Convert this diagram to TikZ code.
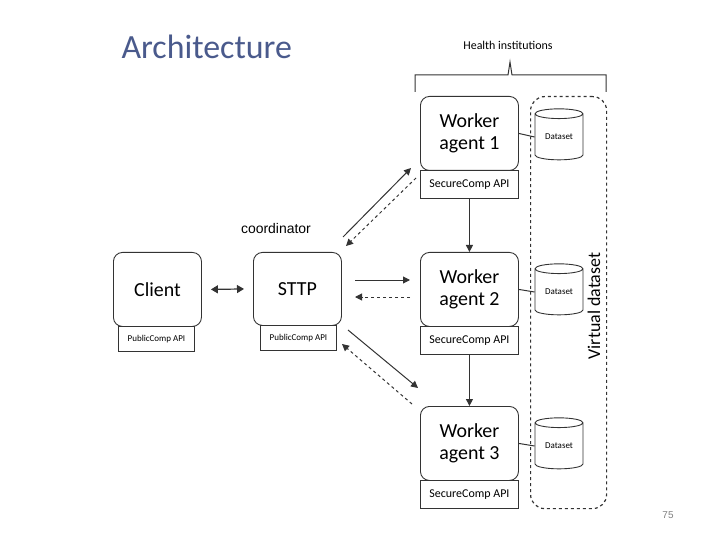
\documentclass[tikz,border=0pt]{standalone}
\usepackage{fontspec}
\setmainfont{Carlito}
\newfontfamily\arial{Liberation Sans}
\usetikzlibrary{arrows.meta,shapes.geometric}
\definecolor{titleblue}{HTML}{4A5A8C}
\definecolor{ln}{HTML}{333333}
\begin{document}
\begin{tikzpicture}[x=1bp,y=-1bp,
  agent/.style={draw=ln,line width=0.9pt,rounded corners=9bp,minimum width=98bp,minimum height=74bp,align=center,font=\fontsize{20}{22}\selectfont,anchor=north west,inner sep=0pt},
  api/.style={draw=ln,line width=0.9pt,minimum width=98bp,minimum height=28bp,font=\fontsize{12}{13}\selectfont,anchor=north west,inner sep=0pt},
  papi/.style={draw=ln,line width=0.9pt,minimum width=76bp,minimum height=25bp,font=\fontsize{9}{10}\selectfont,anchor=north west,inner sep=0pt},
  db/.style={draw=ln,line width=0.9pt,cylinder,shape border rotate=90,aspect=0.35,minimum width=48bp,minimum height=51bp,font=\fontsize{9}{10}\selectfont,inner sep=0pt},
  sol/.style={draw=ln,line width=1pt,-{Stealth[length=7bp,width=7bp,inset=0pt]}},
  das/.style={sol,dashed}]
\useasboundingbox (0,0) rectangle (720,540);
\node[font=\fontsize{34}{36}\selectfont,text=titleblue,anchor=west] (title) at (118,47) {Architecture};
\node[font=\fontsize{12}{13}\selectfont] (hi) at (508,45) {Health institutions};
\draw[ln,line width=1pt] (415,92) -- (415,75) -- (508,75) -- (510,62) -- (512,75) -- (606,75) -- (606,92);
\node[draw=ln,dashed,line width=1.2pt,rounded corners=14bp,minimum width=76bp,minimum height=412bp,anchor=north west] (vd) at (530,96) {};
\node[rotate=90,font=\fontsize{18}{20}\selectfont] (vdt) at (594,306) {Virtual dataset};
\node[agent] (w1) at (420,96) {Worker\\agent 1};
\node[api] (a1) at (420,170) {SecureComp API};
\node[agent] (w2) at (420,252) {Worker\\agent 2};
\node[api] (a2) at (420,326) {SecureComp API};
\node[agent] (w3) at (420,406) {Worker\\agent 3};
\node[api] (a3) at (420,480) {SecureComp API};
\node[db] (d1) at (559,137) {Dataset};
\node[db] (d2) at (559,292) {Dataset};
\node[db] (d3) at (559,446) {Dataset};
\draw[ln,line width=1pt] (w1.east) -- (d1.west);
\draw[ln,line width=1pt] (w2.east) -- (d2.west);
\draw[ln,line width=1pt] (w3.east) -- (d3.west);
\draw[sol] (a1.south) -- (w2.north);
\draw[sol] (a2.south) -- (w3.north);
\node[agent,minimum width=88bp] (cl) at (113,252) {Client};
\node[papi] (ca) at (118,326) {PublicComp API};
\node[agent,minimum width=88bp,minimum height=73bp] (st) at (253,252) {STTP};
\node[papi] (sa) at (260,325) {PublicComp API};
\draw[draw=ln,line width=1.2pt,{Stealth[length=7bp,width=8bp,inset=0pt]}-{Stealth[length=7bp,width=8bp,inset=0pt]}] ([xshift=9bp]cl.east) -- ([xshift=-9bp]st.west);
\node[font=\arial\fontsize{14}{16}\selectfont] (co) at (276,229) {coordinator};
\coordinate (s1a) at (343,237); \coordinate (s1b) at (411,168);
\coordinate (s1c) at (416,178); \coordinate (s1d) at (346,246);
\draw[sol] (s1a) -- (s1b);
\draw[das] (s1c) -- (s1d);
\draw[sol] (355,280) -- (410,280);
\draw[das] (410,297) -- (355,297);
\draw[sol] (348,330) -- (418,388);
\draw[das] (412,404) -- (342,344);
\node[font=\arial\fontsize{10}{12}\selectfont,text=gray] (pg) at (668,515) {75};
\end{tikzpicture}
\end{document}
